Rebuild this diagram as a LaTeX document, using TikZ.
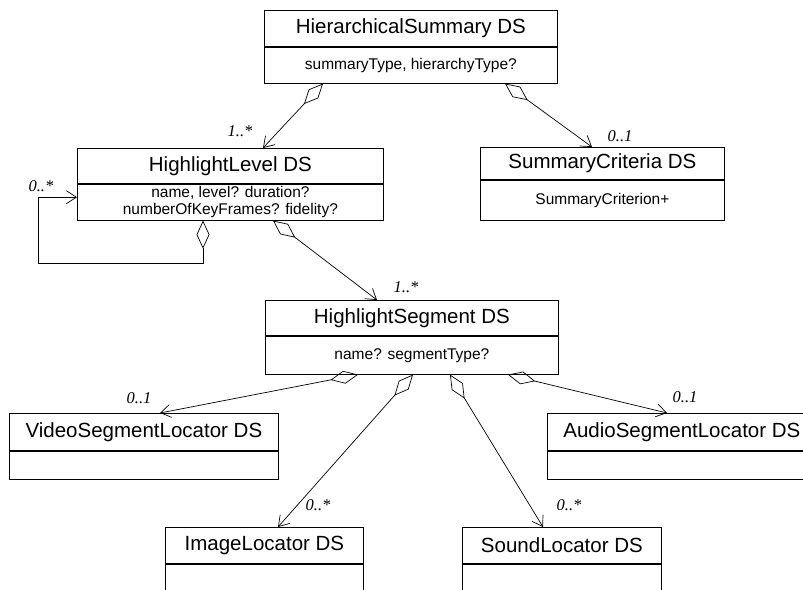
\documentclass[tikz,border=0pt]{standalone}
\usepackage{fontspec}
\setmainfont{Liberation Sans}
\newfontfamily\multfont{Liberation Serif}
\usetikzlibrary{arrows.meta}
\begin{document}
\begin{tikzpicture}[x=1pt,y=-1pt,
  cls/.style={draw, line width=0.8pt, inner sep=0pt, anchor=north west, align=center},
  ttl/.style={cls, font=\fontsize{20.5}{24}\selectfont},
  att/.style={cls, font=\fontsize{15.5}{18}\selectfont},
  mult/.style={font=\multfont\itshape\fontsize{16.5}{18}\selectfont, inner sep=0pt},
  agg/.style={line width=0.7pt, arrows={Diamond[open,length=28pt,width=13pt]-Straight Barb[length=10pt,width=13pt]}}]
\useasboundingbox (0,0) rectangle (803,589);
\clip (0,0) rectangle (803,589);
% HierarchicalSummary
\node[ttl, minimum width=293pt, minimum height=36pt] (hsT) at (264,10) {HierarchicalSummary DS};
\node[att, minimum width=293pt, minimum height=36pt] (hsA) at (hsT.south west) {summaryType, hierarchyType?};
% HighlightLevel
\node[ttl, minimum width=306pt, minimum height=35pt] (hlT) at (77,148) {HighlightLevel DS};
\node[att, minimum width=306pt, minimum height=36pt, font=\fontsize{15.5}{16.5}\selectfont] (hlA) at (hlT.south west) {name, level? duration?\\numberOfKeyFrames? fidelity?};
% SummaryCriteria
\node[ttl, minimum width=244pt, minimum height=32pt] (scT) at (480,147) {SummaryCriteria DS};
\node[att, minimum width=244pt, minimum height=40pt] (scA) at (scT.south west) {SummaryCriterion+};
% HighlightSegment
\node[ttl, minimum width=293pt, minimum height=35pt] (sgT) at (265,300) {HighlightSegment DS};
\node[att, minimum width=293pt, minimum height=38pt] (sgA) at (sgT.south west) {name? segmentType?};
% VideoSegmentLocator
\node[ttl, minimum width=269pt, minimum height=37pt] (vdT) at (9,413) {VideoSegmentLocator DS};
\node[att, minimum width=269pt, minimum height=28pt] (vdA) at (vdT.south west) {};
% AudioSegmentLocator
\node[ttl, minimum width=269pt, minimum height=37pt] (auT) at (547,413) {AudioSegmentLocator DS};
\node[att, minimum width=269pt, minimum height=28pt] (auA) at (auT.south west) {};
% ImageLocator
\node[ttl, minimum width=198pt, minimum height=36pt] (imT) at (165,527) {ImageLocator DS};
\node[att, minimum width=198pt, minimum height=50pt] (imA) at (imT.south west) {};
% SoundLocator
\node[ttl, minimum width=199pt, minimum height=36pt] (soT) at (462,527) {SoundLocator DS};
\node[att, minimum width=199pt, minimum height=50pt] (soA) at (soT.south west) {};
% connectors
\draw[agg] ([xshift=59pt]hsA.south west) -- ([xshift=186pt]hlT.north west);
\draw[agg] ([xshift=241pt]hsA.south west) -- ([xshift=112pt]scT.north west);
\draw[agg] ([xshift=126pt]hlA.south west) -- ++(0,43) -- ++(-165,0) |- ([yshift=5pt]hlA.west);
\draw[agg] ([xshift=196pt]hlA.south west) -- ([xshift=112pt]sgT.north west);
\draw[agg] ([xshift=93pt]sgA.south west) -- ([xshift=151pt]vdT.north west);
\draw[agg] ([xshift=148pt]sgA.south west) -- ([xshift=113pt]imT.north west);
\draw[agg] ([xshift=185pt]sgA.south west) -- ([xshift=81pt]soT.north west);
\draw[agg] ([xshift=243pt]sgA.south west) -- ([xshift=120pt]auT.north west);
% multiplicities
\node[mult] (m1) at (240,131) {1..*};
\node[mult] (m2) at (620,136) {0..1};
\node[mult] (m3) at (41,186) {0..*};
\node[mult] (m4) at (406,287) {1..*};
\node[mult] (m5) at (139,398) {0..1};
\node[mult] (m6) at (685,397) {0..1};
\node[mult] (m7) at (318,505) {0..*};
\node[mult] (m8) at (569,505) {0..*};
\end{tikzpicture}
\end{document}
